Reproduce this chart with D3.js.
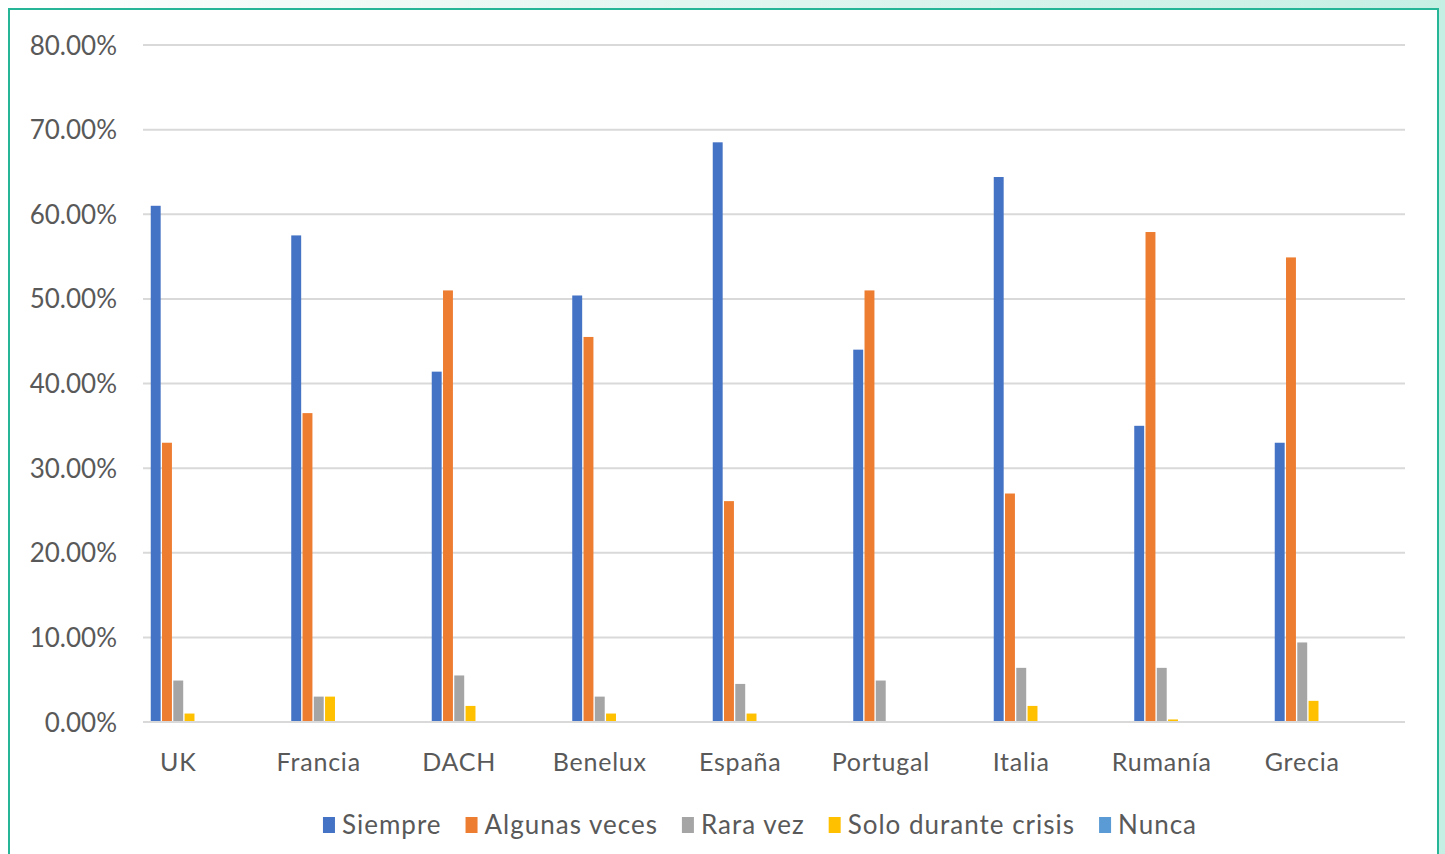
<!DOCTYPE html>
<html><head><meta charset="utf-8">
<script src="https://cdn.jsdelivr.net/npm/d3@7"></script>
<style>
html,body{margin:0;padding:0;}
body{width:1445px;height:854px;overflow:hidden;background:linear-gradient(90deg,#ffffff 0%,#e6f7f2 40%,#c6efe4 100%);}
svg{display:block;}
text{font-family:Lato,"Open Sans",sans-serif;fill:#595959;}
</style></head>
<body>
<svg id="chart" width="1445" height="854"></svg>
<script>
const categories = ["UK","Francia","DACH","Benelux","España","Portugal","Italia","Rumanía","Grecia"];
const seriesNames = ["Siempre","Algunas veces","Rara vez","Solo durante crisis","Nunca"];
const siempre      = [61.0, 57.5, 41.4, 50.4, 68.5, 44.0, 64.4, 35.0, 33.0];
const algunasVeces = [33.0, 36.5, 51.0, 45.5, 26.1, 51.0, 27.0, 57.9, 54.9];
const raraVez      = [4.9, 3.0, 5.5, 3.0, 4.5, 4.9, 6.4, 6.4, 9.4];
const soloCrisis   = [1.0, 3.0, 1.9, 1.0, 1.0, 0.0, 1.9, 0.3, 2.5];
const nunca        = [0, 0, 0, 0, 0, 0, 0, 0, 0];
const yTicks = [0, 10, 20, 30, 40, 50, 60, 70, 80];
const colors = ["#4472C4","#ED7D31","#A5A5A5","#FFC000","#5B9BD5"];

const seriesData = [siempre, algunasVeces, raraVez, soloCrisis, nunca];
const svg = d3.select("#chart");

// frame
svg.append("rect").attr("x",9).attr("y",9).attr("width",1429).attr("height",860)
  .attr("fill","#ffffff").attr("stroke","#26b597").attr("stroke-width",2);

const plotL = 143, plotR = 1405, plotT = 45, plotB = 722;
const y = d3.scaleLinear().domain([0,80]).range([plotB, plotT]);

// gridlines
svg.append("g").selectAll("line").data(yTicks).join("line")
  .attr("x1",plotL).attr("x2",plotR)
  .attr("y1",d=>y(d)).attr("y2",d=>y(d))
  .attr("stroke","#d9d9d9").attr("stroke-width",2);

// y axis labels
const yAxis = d3.axisLeft(y).tickValues(yTicks).tickSize(0).tickPadding(0)
  .tickFormat(d=>d.toFixed(2)+"%");
const gy = svg.append("g").attr("transform",`translate(117,0)`).call(yAxis);
gy.select(".domain").remove();
gy.selectAll("text").attr("font-size",26).attr("fill","#595959")
  .style("font-family","Lato, 'Open Sans', sans-serif").attr("dy","0.35em");

// x scale
const step = 140.5;
const x0 = d3.scaleBand().domain(categories).range([108, 108 + step*categories.length]).padding(0);
const x1 = d3.scaleBand().domain(seriesNames).range([42.75, 42.75 + 55]).paddingInner(0.12).paddingOuter(0);

const groups = svg.append("g").selectAll("g").data(categories).join("g")
  .attr("transform",d=>`translate(${x0(d)},0)`);
groups.selectAll("rect").data((c,i)=>seriesNames.map((s,j)=>({s, v: seriesData[j][i], j})))
  .join("rect")
  .attr("x",d=>x1(d.s)).attr("width",x1.bandwidth())
  .attr("y",d=>y(d.v)).attr("height",d=>plotB - y(d.v))
  .attr("fill",d=>colors[d.j]);

// x labels
const xAxis = d3.axisBottom(x0).tickSize(0).tickPadding(0);
const gx = svg.append("g").attr("transform",`translate(0,${plotB})`).call(xAxis);
gx.select(".domain").remove();
gx.selectAll("text").attr("font-size",25).attr("fill","#595959").attr("dy",0).attr("y",49)
  .style("letter-spacing","0.8px")
  .style("font-family","Lato, 'Open Sans', sans-serif");
// baseline
svg.append("line").attr("x1",plotL).attr("x2",plotR).attr("y1",plotB).attr("y2",plotB)
  .attr("stroke","#d9d9d9").attr("stroke-width",2);

// legend
const legend = svg.append("g");
const items = legend.selectAll("g").data(seriesNames).join("g");
items.append("rect").attr("width",12).attr("height",16).attr("y",-17).attr("fill",(d,i)=>colors[i]);
items.append("text").attr("x",19).attr("y",0).attr("font-size",26)
  .style("letter-spacing","1px").text(d=>d);
let cx = 0;
items.each(function(d){
  const w = this.getBBox().width;
  d3.select(this).attr("transform",`translate(${cx},0)`);
  cx += w + 24;
});
const total = cx - 24;
legend.attr("transform",`translate(${760 - total/2},834)`);
</script>
</body></html>
